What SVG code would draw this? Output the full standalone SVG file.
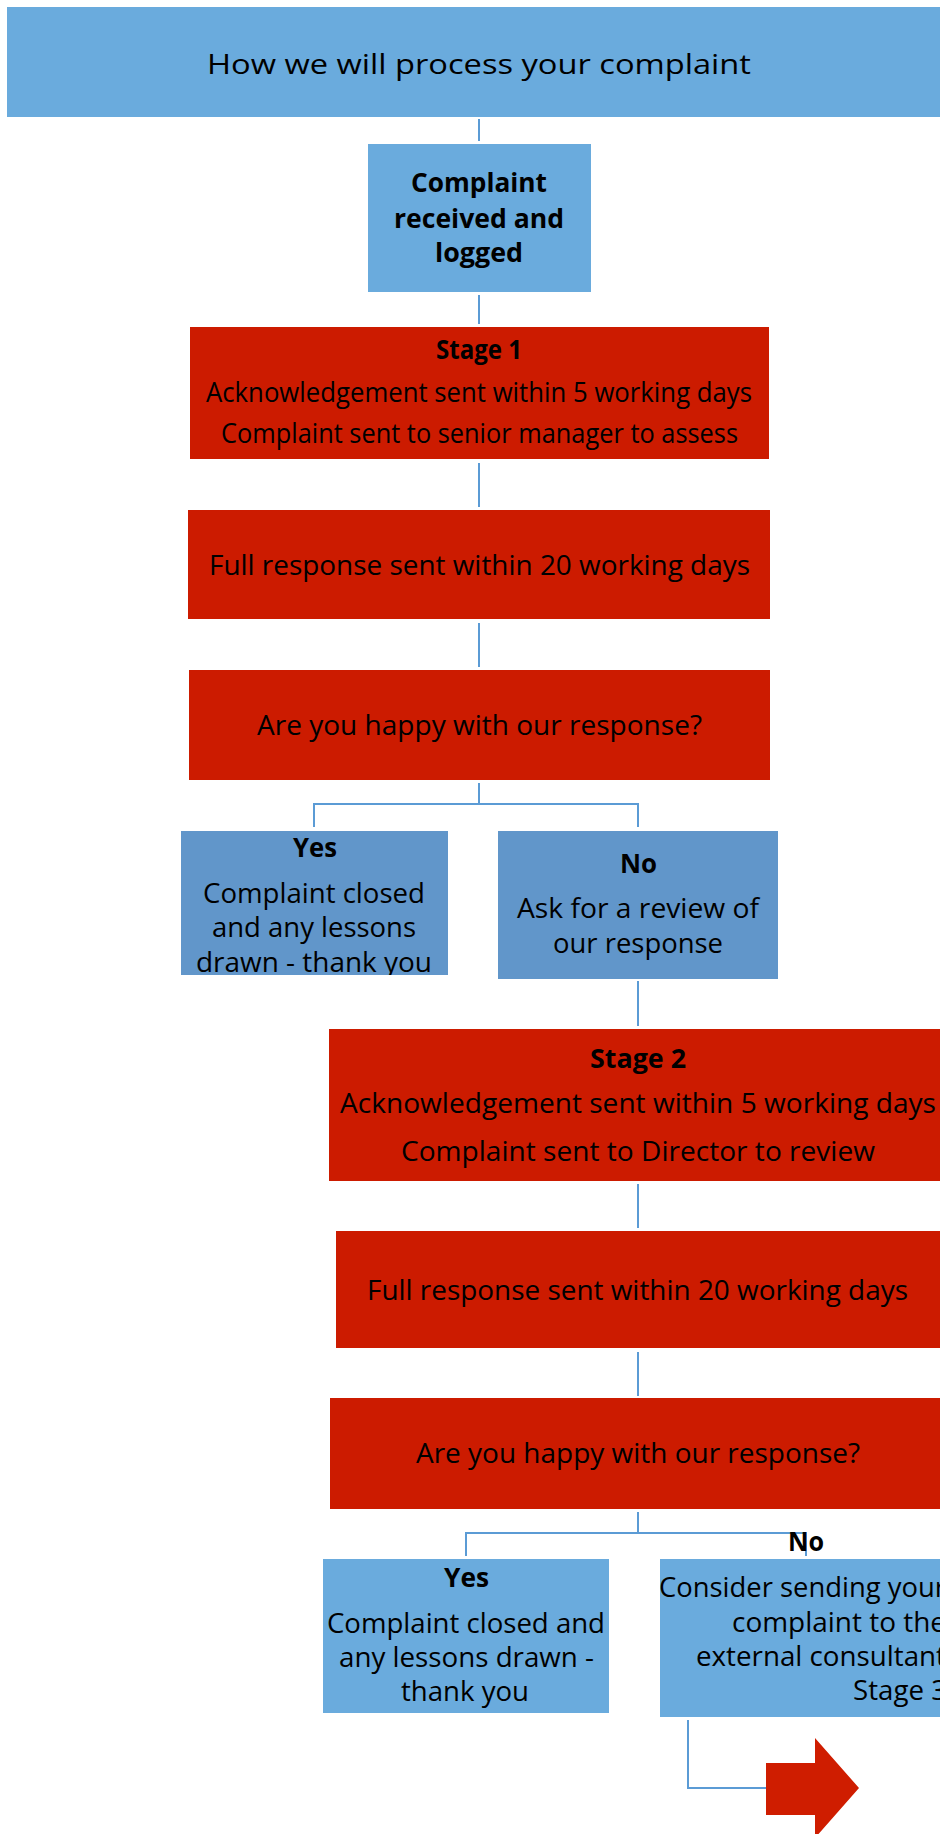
<svg xmlns="http://www.w3.org/2000/svg" width="940" height="1834" viewBox="0 0 940 1834">
<style>
.blue{fill:#6aabdd}
.blue2{fill:#6196ca}
.red{fill:#cc1b00}
.t{font-family:"Open Sans","Noto Sans","Liberation Sans",sans-serif;font-size:27px;fill:#000;text-anchor:middle}
.b{font-weight:bold}
.conn{fill:none;stroke:#5b9bd5;stroke-width:2}
</style>
<defs>
<clipPath id="clipYes1"><rect x="181" y="831" width="267" height="144"/></clipPath>
</defs>
<rect width="940" height="1834" fill="#fff"/>
<g id="connectors">
<path class="conn" d="M479 119V141"/>
<path class="conn" d="M479 295V324"/>
<path class="conn" d="M479 463V507"/>
<path class="conn" d="M479 623V667"/>
<path class="conn" d="M479 783V804M314 827V804H638V827"/>
<path class="conn" d="M638 981V1026"/>
<path class="conn" d="M638 1184V1228"/>
<path class="conn" d="M638 1352V1396"/>
<path class="conn" d="M638 1512V1533M466 1556V1533H806V1556"/>
<path class="conn" d="M688 1720V1788H766"/>
</g>
<g id="title">
<rect class="blue" x="7" y="7" width="960" height="110"/>
<text class="t" x="479" y="74" font-size="33" textLength="544" lengthAdjust="spacingAndGlyphs">How we will process your complaint</text>
</g>
<g id="received">
<rect class="blue" x="368" y="144" width="223" height="148"/>
<text class="t b" x="479" y="192" textLength="136" lengthAdjust="spacingAndGlyphs">Complaint</text>
<text class="t b" x="479" y="228" textLength="170" lengthAdjust="spacingAndGlyphs">received and</text>
<text class="t b" x="479" y="262" textLength="88" lengthAdjust="spacingAndGlyphs">logged</text>
</g>
<g id="stage1">
<rect class="red" x="190" y="327" width="579" height="132"/>
<text class="t b" x="479" y="359" font-size="25" textLength="86" lengthAdjust="spacingAndGlyphs">Stage 1</text>
<text class="t" x="479" y="402" font-size="25" textLength="546" lengthAdjust="spacingAndGlyphs">Acknowledgement sent within 5 working days</text>
<text class="t" x="479.5" y="443" font-size="25" textLength="517" lengthAdjust="spacingAndGlyphs">Complaint sent to senior manager to assess</text>
</g>
<g id="full1">
<rect class="red" x="188" y="510" width="582" height="109"/>
<text class="t" x="479.5" y="575" textLength="541" lengthAdjust="spacingAndGlyphs">Full response sent within 20 working days</text>
</g>
<g id="happy1">
<rect class="red" x="189" y="670" width="581" height="110"/>
<text class="t" x="479.5" y="735" textLength="445" lengthAdjust="spacingAndGlyphs">Are you happy with our response?</text>
</g>
<g id="yes1">
<rect class="blue2" x="181" y="831" width="267" height="144"/>
<g clip-path="url(#clipYes1)">
<text class="t b" x="315" y="857" textLength="44" lengthAdjust="spacingAndGlyphs">Yes</text>
<text class="t" x="314" y="903" textLength="222" lengthAdjust="spacingAndGlyphs">Complaint closed</text>
<text class="t" x="314" y="937" textLength="204" lengthAdjust="spacingAndGlyphs">and any lessons</text>
<text class="t" x="314" y="972" textLength="236" lengthAdjust="spacingAndGlyphs">drawn - thank you</text>
</g>
</g>
<g id="no1">
<rect class="blue2" x="498" y="831" width="280" height="148"/>
<text class="t b" x="638.5" y="873" textLength="37" lengthAdjust="spacingAndGlyphs">No</text>
<text class="t" x="638" y="918" textLength="242" lengthAdjust="spacingAndGlyphs">Ask for a review of</text>
<text class="t" x="638" y="953" textLength="170" lengthAdjust="spacingAndGlyphs">our response</text>
</g>
<g id="stage2">
<rect class="red" x="329" y="1029" width="640" height="152"/>
<text class="t b" x="638" y="1068" textLength="96" lengthAdjust="spacingAndGlyphs">Stage 2</text>
<text class="t" x="638" y="1113" textLength="596" lengthAdjust="spacingAndGlyphs">Acknowledgement sent within 5 working days</text>
<text class="t" x="638" y="1161" textLength="474" lengthAdjust="spacingAndGlyphs">Complaint sent to Director to review</text>
</g>
<g id="full2">
<rect class="red" x="336" y="1231" width="640" height="117"/>
<text class="t" x="637.5" y="1300" textLength="541" lengthAdjust="spacingAndGlyphs">Full response sent within 20 working days</text>
</g>
<g id="happy2">
<rect class="red" x="330" y="1398" width="640" height="111"/>
<text class="t" x="638" y="1463" textLength="444" lengthAdjust="spacingAndGlyphs">Are you happy with our response?</text>
</g>
<g id="noLabel">
<text class="t b" x="806" y="1551" textLength="36" lengthAdjust="spacingAndGlyphs">No</text>
</g>
<g id="yes2">
<rect class="blue" x="323" y="1559" width="286" height="154"/>
<text class="t b" x="466.5" y="1587" textLength="45" lengthAdjust="spacingAndGlyphs">Yes</text>
<text class="t" x="466" y="1633" textLength="278" lengthAdjust="spacingAndGlyphs">Complaint closed and</text>
<text class="t" x="466.5" y="1667" textLength="255" lengthAdjust="spacingAndGlyphs">any lessons drawn -</text>
<text class="t" x="465" y="1701" textLength="128" lengthAdjust="spacingAndGlyphs">thank you</text>
</g>
<g id="no2">
<rect class="blue" x="660" y="1559" width="320" height="158"/>
<text class="t" x="946" y="1597" style="text-anchor:end" textLength="287" lengthAdjust="spacingAndGlyphs">Consider sending your</text>
<text class="t" x="946" y="1632" style="text-anchor:end" textLength="214" lengthAdjust="spacingAndGlyphs">complaint to the</text>
<text class="t" x="946" y="1666" style="text-anchor:end" textLength="250" lengthAdjust="spacingAndGlyphs">external consultant</text>
<text class="t" x="947" y="1700" style="text-anchor:end" textLength="94" lengthAdjust="spacingAndGlyphs">Stage 3</text>
</g>
<g id="arrow">
<polygon fill="#cf1d00" points="766,1763 815,1763 815,1738 859,1788 815,1838 815,1815 766,1815"/>
</g>
</svg>
